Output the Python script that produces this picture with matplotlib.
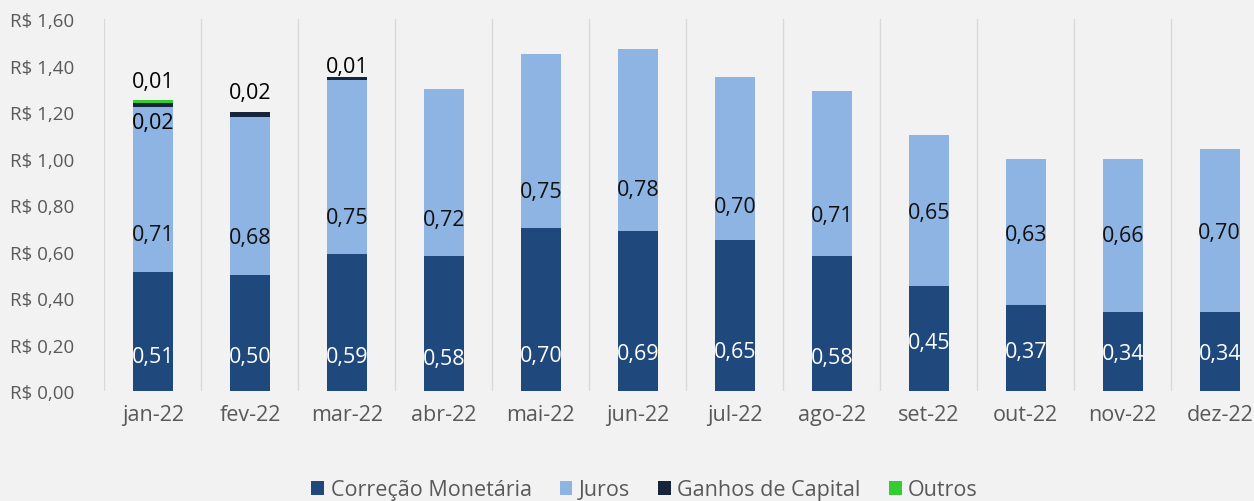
import matplotlib.pyplot as plt
import numpy as np

plt.rcParams['font.family'] = ['Open Sans', 'DejaVu Sans']

meses = ['jan-22', 'fev-22', 'mar-22', 'abr-22', 'mai-22', 'jun-22',
         'jul-22', 'ago-22', 'set-22', 'out-22', 'nov-22', 'dez-22']
correcao = [0.51, 0.50, 0.59, 0.58, 0.70, 0.69, 0.65, 0.58, 0.45, 0.37, 0.34, 0.34]
juros = [0.71, 0.68, 0.75, 0.72, 0.75, 0.78, 0.70, 0.71, 0.65, 0.63, 0.66, 0.70]
ganhos = [0.02, 0.02, 0.01, 0, 0, 0, 0, 0, 0, 0, 0, 0]
outros = [0.01, 0, 0, 0, 0, 0, 0, 0, 0, 0, 0, 0]
yticks = np.arange(0, 1.61, 0.2)

# alturas dos rótulos (posição como no original)
y_lab_correcao = [0.15, 0.15, 0.15, 0.14, 0.155, 0.16, 0.17, 0.145, 0.21, 0.17, 0.16, 0.16]
y_lab_juros = [0.675, 0.662, 0.748, 0.74, 0.86, 0.865, 0.796, 0.753, 0.77, 0.675, 0.667, 0.68]

cores = {'Correção Monetária': '#1F497D', 'Juros': '#8EB4E3',
         'Ganhos de Capital': '#17253A', 'Outros': '#33CC33'}

fig = plt.figure(figsize=(12.54, 5.02), dpi=100)
fig.patch.set_facecolor('#F2F2F2')
ax = fig.add_axes([0.0833, 0.219, 0.928, 0.741])
ax.set_facecolor('#F2F2F2')

x = np.arange(len(meses))
w = 0.41
c = np.array(correcao)
j = np.array(juros)
g = np.array(ganhos)
o = np.array(outros)
ax.bar(x, c, w, color=cores['Correção Monetária'], label='Correção Monetária', zorder=3)
ax.bar(x, j, w, bottom=c, color=cores['Juros'], label='Juros', zorder=3)
ax.bar(x, g, w, bottom=c + j, color=cores['Ganhos de Capital'], label='Ganhos de Capital', zorder=3)
ax.bar(x, o, w, bottom=c + j + g, color=cores['Outros'], label='Outros', zorder=3)

fs = 15.5
fmt = lambda v: f'{v:.2f}'.replace('.', ',')
for i in range(len(meses)):
    ax.text(x[i], y_lab_correcao[i], fmt(correcao[i]), ha='center', va='center',
            color='white', fontsize=fs, zorder=4)
    ax.text(x[i], y_lab_juros[i], fmt(juros[i]), ha='center', va='center',
            color='#111111', fontsize=fs, zorder=4)

# rótulos pequenos
ax.text(x[0], 1.333, fmt(outros[0]), ha='center', va='center', fontsize=fs, zorder=4)
ax.text(x[0], 1.157, fmt(ganhos[0]), ha='center', va='center', fontsize=fs, zorder=4)
ax.text(x[1], 1.286, fmt(ganhos[1]), ha='center', va='center', fontsize=fs, zorder=4)
ax.text(x[2], 1.398, fmt(ganhos[2]), ha='center', va='center', fontsize=fs, zorder=4)

ax.set_xlim(-0.5, len(meses) - 0.5)
ax.set_ylim(0, 1.6)
ax.set_yticks(yticks)
ax.set_yticklabels(['R$ ' + f'{v:.2f}'.replace('.', ',') for v in yticks])
ax.set_xticks(x)
ax.set_xticklabels(meses)
ax.tick_params(axis='both', length=0, colors='#595959')
ax.tick_params(axis='y', pad=22, labelsize=13.5)
ax.tick_params(axis='x', pad=9, labelsize=fs)
for xb in np.arange(-0.5, len(meses), 1):
    ax.axvline(xb, color='#D9D9D9', lw=1, zorder=1)
for s in ax.spines.values():
    s.set_visible(False)

leg = fig.legend(loc='center', bbox_to_anchor=(0.514, 0.022), ncol=4, frameon=False,
                 fontsize=fs, handlelength=0.6, handleheight=0.6, columnspacing=1.3,
                 handletextpad=0.3)
for t in leg.get_texts():
    t.set_color('#595959')

plt.savefig('out.png', dpi=100, facecolor=fig.get_facecolor())
